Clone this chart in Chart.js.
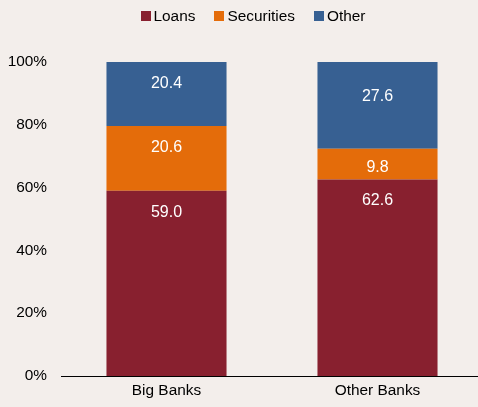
<!DOCTYPE html>
<html>
<head>
<meta charset="utf-8">
<script src="https://cdn.jsdelivr.net/npm/chart.js@4/dist/chart.umd.min.js"></script>
<style>
  html, body { margin: 0; padding: 0; background: #F3EEEB; overflow: hidden; }
  #wrap { width: 478px; height: 407px; overflow: hidden; }
  #c { display: block; }
</style>
</head>
<body>
<!-- plot runs slightly past the right edge, so the canvas is a few px wider than the frame -->
<div id="wrap"><canvas id="c" width="483" height="407"></canvas></div>
<script>
const categories = ['Big Banks', 'Other Banks'];
const loans = [59.0, 62.6];
const securities = [20.6, 9.8];
const other = [20.4, 27.6];
const yTicks = [0, 20, 40, 60, 80, 100];

const FONT = '"Liberation Sans", Arial, sans-serif';

// Distance (px) of each value label below the top of its segment
const labelDrop = [[21.5, 21.5], [22, 19], [22, 35]];

// White value labels inside each bar segment
const segmentLabels = {
  id: 'segmentLabels',
  afterDatasetsDraw(chart) {
    const ctx = chart.ctx;
    ctx.save();
    ctx.fillStyle = '#FFFFFF';
    ctx.font = '16px ' + FONT;
    ctx.textAlign = 'center';
    ctx.textBaseline = 'middle';
    chart.data.datasets.forEach((ds, i) => {
      chart.getDatasetMeta(i).data.forEach((bar, j) => {
        const top = Math.min(bar.y, bar.base);
        ctx.fillText(ds.data[j].toFixed(1), bar.x, top + labelDrop[i][j]);
      });
    });
    ctx.restore();
  }
};

// Compact legend row: square swatch, small gap, label
const topLegend = {
  id: 'topLegend',
  afterDraw(chart) {
    const ctx = chart.ctx;
    ctx.save();
    ctx.font = '15.4px ' + FONT;
    ctx.textBaseline = 'middle';
    ctx.textAlign = 'left';
    const box = 10, gap = 3, spacing = 19, cy = 15.5;
    const items = chart.data.datasets.map(ds => ({
      label: ds.label, color: ds.backgroundColor, w: ctx.measureText(ds.label).width
    }));
    const total = items.reduce((s, it) => s + box + gap + it.w, 0) + spacing * (items.length - 1);
    let x = 253 - total / 2;
    items.forEach(it => {
      ctx.fillStyle = it.color;
      ctx.fillRect(Math.round(x), Math.round(cy - box / 2), box, box);
      ctx.fillStyle = '#000';
      ctx.fillText(it.label, x + box + gap, cy + 1);
      x += box + gap + it.w + spacing;
    });
    ctx.restore();
  }
};

new Chart(document.getElementById('c'), {
  type: 'bar',
  data: {
    labels: categories,
    datasets: [
      { label: 'Loans', data: loans, backgroundColor: '#88202F' },
      { label: 'Securities', data: securities, backgroundColor: '#E46C0A' },
      { label: 'Other', data: other, backgroundColor: '#376092' }
    ]
  },
  options: {
    responsive: false,
    animation: false,
    devicePixelRatio: 1,
    layout: { padding: { top: 62, right: 0, left: 0, bottom: 0 } },
    datasets: { bar: { categoryPercentage: 1.0, barPercentage: 0.569 } },
    plugins: {
      legend: { display: false },
      tooltip: { enabled: false }
    },
    scales: {
      x: {
        stacked: true,
        afterFit(axis) { axis.height = 31; },
        grid: { display: false, drawTicks: false },
        border: { display: true, color: '#000', width: 1 },
        ticks: {
          color: '#000',
          padding: 6,
          font: { family: FONT, size: 15.4 }
        }
      },
      y: {
        stacked: true,
        min: 0,
        max: 100,
        afterFit(axis) { axis.width = 61; },
        afterBuildTicks(axis) { axis.ticks = yTicks.map(v => ({ value: v })); },
        grid: { display: false, drawTicks: false },
        border: { display: false },
        ticks: {
          color: '#000',
          padding: 14,
          callback: v => v + '%',
          font: { family: FONT, size: 15.4 }
        }
      }
    }
  },
  plugins: [segmentLabels, topLegend]
});
</script>
</body>
</html>
